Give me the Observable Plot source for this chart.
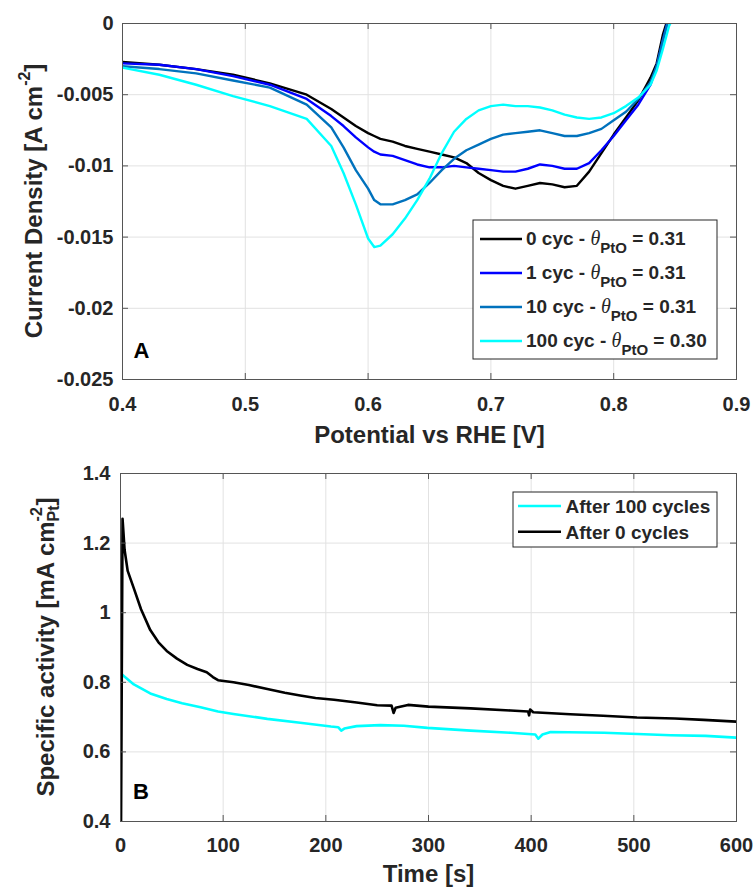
<!DOCTYPE html>
<html><head><meta charset="utf-8">
<script src="https://cdn.jsdelivr.net/npm/d3@7"></script>
<script src="https://cdn.jsdelivr.net/npm/@observablehq/plot@0.6"></script>
<style>
body{margin:0;background:#fff}
#chart{position:relative;width:756px;height:888px}
#chart svg{display:block}
</style></head><body><div id="chart"></div><script>
// ---------- Panel A data ----------
const potentialA = [0.40,0.43,0.46,0.49,0.52,0.55,0.57,0.58,0.59,0.60,0.605,0.61,0.62,0.63,0.64,0.65,0.66,0.67,0.68,0.69,0.70,0.71,0.72,0.73,0.74,0.75,0.76,0.77,0.78,0.79,0.80,0.81,0.82,0.83,0.835,0.84,0.845,0.85];
const current0cyc = [-0.0027,-0.0029,-0.0032,-0.0036,-0.0042,-0.0050,-0.0060,-0.0066,-0.0072,-0.0077,-0.0079,-0.0081,-0.0083,-0.0086,-0.0088,-0.0090,-0.0092,-0.0094,-0.0098,-0.0105,-0.0110,-0.0114,-0.0116,-0.0114,-0.0112,-0.0113,-0.0115,-0.0114,-0.0104,-0.0091,-0.0078,-0.0066,-0.0054,-0.0038,-0.0028,-0.0008,0.0006,0.0015];
const current1cyc = [-0.0028,-0.0029,-0.0032,-0.0037,-0.0043,-0.0053,-0.0065,-0.0072,-0.0080,-0.0087,-0.0090,-0.0092,-0.0093,-0.0096,-0.0099,-0.0101,-0.0101,-0.0100,-0.0101,-0.0102,-0.0103,-0.0104,-0.0104,-0.0102,-0.0099,-0.0100,-0.0102,-0.0102,-0.0098,-0.0089,-0.0079,-0.0068,-0.0057,-0.0043,-0.0030,-0.0012,0.0005,0.0014];
const current10cyc = [-0.0030,-0.0032,-0.0035,-0.0040,-0.0045,-0.0057,-0.0073,-0.0087,-0.0103,-0.0116,-0.0124,-0.0127,-0.0127,-0.0124,-0.0120,-0.0112,-0.0103,-0.0095,-0.0089,-0.0085,-0.0081,-0.0078,-0.0077,-0.0076,-0.0075,-0.0077,-0.0079,-0.0079,-0.0077,-0.0074,-0.0068,-0.0062,-0.0053,-0.0041,-0.0030,-0.0012,0.0004,0.0013];
const current100cyc = [-0.0031,-0.0036,-0.0043,-0.0051,-0.0058,-0.0067,-0.0086,-0.0105,-0.0127,-0.0151,-0.0157,-0.0156,-0.0148,-0.0137,-0.0124,-0.0109,-0.0091,-0.0076,-0.0067,-0.0061,-0.0058,-0.0057,-0.0058,-0.0058,-0.0059,-0.0061,-0.0064,-0.0066,-0.0067,-0.0066,-0.0063,-0.0058,-0.0052,-0.0043,-0.0033,-0.0018,-0.0002,0.0007];
const cyclesA = ["0 cyc", "1 cyc", "10 cyc", "100 cyc"];
const thetaA = ["0.31", "0.31", "0.31", "0.30"];
const colorsA = ["#000000", "#0000ff", "#0072bd", "#00ffff"];
const xTicksA = [0.4, 0.5, 0.6, 0.7, 0.8, 0.9];
const yTicksA = [-0.025, -0.02, -0.015, -0.01, -0.005, 0];

// ---------- Panel B data ----------
const timeAfter0 = [0.5,2,4,7,13,20,29,37,45,55,65,75,84,90,95,110,125,143,160,175,190,208,230,250,264,266,268,280,300,341,380,397,398,399,402,438,470,503,540,568,600];
const activityAfter0 = [0.38,1.27,1.18,1.12,1.07,1.01,0.95,0.915,0.89,0.868,0.850,0.838,0.829,0.815,0.806,0.800,0.792,0.781,0.770,0.762,0.755,0.750,0.742,0.734,0.733,0.712,0.727,0.735,0.730,0.725,0.719,0.716,0.705,0.722,0.714,0.708,0.704,0.699,0.696,0.692,0.687];
const timeAfter100 = [0,13,29,45,60,78,95,110,143,175,205,212,215,218,230,253,276,299,341,380,404,407,411,419,471,536,570,600];
const activityAfter100 = [0.826,0.794,0.768,0.752,0.740,0.728,0.716,0.709,0.695,0.684,0.673,0.671,0.661,0.667,0.674,0.677,0.675,0.669,0.661,0.655,0.650,0.638,0.650,0.657,0.655,0.648,0.646,0.641];
const legendB = ["After 100 cycles", "After 0 cycles"];
const colorsB = ["#00ffff", "#000000"];
const xTicksB = [0, 100, 200, 300, 400, 500, 600];
const yTicksB = [0.4, 0.6, 0.8, 1, 1.2, 1.4];

// ---------- styling ----------
const FONT = '"Liberation Sans", Arial, Helvetica, sans-serif';
const SERIF = '"Liberation Serif", "Times New Roman", serif';
const INK = "#262626";
const AXIS = "#555555";
const GRID = "#e2e2e2";
const TICK = 6;

function frameMarks(xt, yt, pw, ph) {
  return [
    Plot.ruleX(xt, {x: d => d, insetTop: ph - TICK, stroke: AXIS}),
    Plot.ruleX(xt, {x: d => d, insetBottom: ph - TICK, stroke: AXIS}),
    Plot.ruleY(yt, {y: d => d, insetRight: pw - TICK, stroke: AXIS}),
    Plot.ruleY(yt, {y: d => d, insetLeft: pw - TICK, stroke: AXIS}),
    Plot.frame({stroke: AXIS})
  ];
}

function rich(svg, x, y, angle, segs, center) {
  const g = d3.select(svg).append("g")
    .attr("transform", `translate(${x},${y}) rotate(${angle})`)
    .attr("fill", INK).attr("font-family", FONT).attr("font-weight", "bold")
    .attr("text-anchor", "start");
  const inner = g.append("g");
  let cx = 0;
  for (const s of segs) {
    const group = s.stack ? s.stack : [s];
    let w = 0;
    for (const p of group) {
      const t = inner.append("text").attr("x", cx).attr("y", p.dy || 0)
        .attr("text-anchor", "start")
        .attr("font-size", p.size).style("white-space", "pre").text(p.text);
      if (p.italic) t.attr("font-style", "italic");
      if (p.family) t.attr("font-family", p.family);
      if (p.weight) t.attr("font-weight", p.weight);
      w = Math.max(w, t.node().getComputedTextLength());
    }
    cx += w;
  }
  if (center) inner.attr("transform", `translate(${-cx / 2},0)`);
  return cx;
}

const chart = document.getElementById("chart");

// ---------- Panel A ----------
const A = {w: 756, h: 450, ml: 122, mr: 20, mt: 23, mb: 71};
const pwA = A.w - A.ml - A.mr, phA = A.h - A.mt - A.mb;
const seriesA = [current0cyc, current1cyc, current10cyc, current100cyc];

const plotA = Plot.plot({
  width: A.w, height: A.h,
  marginLeft: A.ml, marginRight: A.mr, marginTop: A.mt, marginBottom: A.mb,
  style: {fontFamily: FONT, color: INK, background: "#fff", overflow: "visible"},
  x: {domain: [0.4, 0.9]},
  y: {domain: [-0.025, 0]},
  marks: [
    Plot.gridX(xTicksA, {stroke: GRID, strokeOpacity: 1}),
    Plot.gridY(yTicksA, {stroke: GRID, strokeOpacity: 1}),
    ...seriesA.map((vals, k) => Plot.line(potentialA, {
      x: d => d, y: (d, i) => vals[i], stroke: colorsA[k], strokeWidth: 2.4, clip: true
    })),
    ...frameMarks(xTicksA, yTicksA, pwA, phA),
    Plot.axisX(xTicksA, {tickSize: 0, tickPadding: 17, fontSize: 20, fontWeight: "bold", label: null, tickFormat: d => String(d)}),
    Plot.axisY(yTicksA, {tickSize: 0, tickPadding: 9, fontSize: 20, fontWeight: "bold", label: null, tickFormat: d => String(d)}),
    Plot.text(["Potential vs RHE [V]"], {text: d => d, frameAnchor: "bottom", dy: 63, fontSize: 24, fontWeight: "bold"}),
    Plot.text(["A"], {text: d => d, frameAnchor: "bottom-left", textAnchor: "start", dx: 11, dy: -22, fontSize: 22, fontWeight: "bold", fill: "#000"})
  ]
});
chart.appendChild(plotA);

// y label A
rich(plotA, 41.5, A.mt + phA / 2, -90, [
  {text: "Current Density [A cm", size: 24},
  {text: "-2", size: 16, dy: -12},
  {text: "]", size: 24}
], true);

// legend A
{
  const svg = d3.select(plotA);
  const bx = 473, by = 220, bw = 244, bh = 139;
  svg.append("rect").attr("x", bx).attr("y", by).attr("width", bw).attr("height", bh)
    .attr("fill", "#fff").attr("stroke", INK).attr("stroke-width", 1);
  cyclesA.forEach((c, i) => {
    const ly = 239 + i * 34;
    svg.append("line").attr("x1", 480).attr("x2", 522).attr("y1", ly).attr("y2", ly)
      .attr("stroke", colorsA[i]).attr("stroke-width", 2.6);
    rich(plotA, 526, ly + 6, 0, [
      {text: c + " - ", size: 19},
      {text: "θ", size: 20, italic: true, family: SERIF, weight: "normal"},
      {text: "PtO", size: 15, dy: 8},
      {text: " = " + thetaA[i], size: 19}
    ], false);
  });
}

// ---------- Panel B ----------
const B = {w: 756, h: 438, ml: 120, mr: 20, mt: 23, mb: 67};
const pwB = B.w - B.ml - B.mr, phB = B.h - B.mt - B.mb;

const plotB = Plot.plot({
  width: B.w, height: B.h,
  marginLeft: B.ml, marginRight: B.mr, marginTop: B.mt, marginBottom: B.mb,
  style: {fontFamily: FONT, color: INK, background: "#fff", overflow: "visible"},
  x: {domain: [0, 600]},
  y: {domain: [0.4, 1.4]},
  marks: [
    Plot.gridX(xTicksB, {stroke: GRID, strokeOpacity: 1}),
    Plot.gridY(yTicksB, {stroke: GRID, strokeOpacity: 1}),
    Plot.line(timeAfter100, {x: d => d, y: (d, i) => activityAfter100[i], stroke: colorsB[0], strokeWidth: 2.6, clip: true}),
    Plot.line(timeAfter0, {x: d => d, y: (d, i) => activityAfter0[i], stroke: colorsB[1], strokeWidth: 2.6, clip: true}),
    ...frameMarks(xTicksB, yTicksB, pwB, phB),
    Plot.axisX(xTicksB, {tickSize: 0, tickPadding: 16, fontSize: 20, fontWeight: "bold", label: null, tickFormat: d => String(d)}),
    Plot.axisY(yTicksB, {tickSize: 0, tickPadding: 10, fontSize: 20, fontWeight: "bold", label: null, tickFormat: d => String(d)}),
    Plot.text(["Time [s]"], {text: d => d, frameAnchor: "bottom", dy: 60, fontSize: 24, fontWeight: "bold"}),
    Plot.text(["B"], {text: d => d, frameAnchor: "bottom-left", textAnchor: "start", dx: 12.5, dy: -23, fontSize: 22, fontWeight: "bold", fill: "#000"})
  ]
});
chart.appendChild(plotB);

rich(plotB, 53.5, B.mt + phB / 2, -90, [
  {text: "Specific activity [mA cm", size: 24},
  {stack: [{text: "-2", size: 16, dy: -12}, {text: "Pt", size: 16, dy: 5}]},
  {text: "]", size: 24}
], true);

{
  const svg = d3.select(plotB);
  const bx = 513, by = 42, bw = 204, bh = 55;
  svg.append("rect").attr("x", bx).attr("y", by).attr("width", bw).attr("height", bh)
    .attr("fill", "#fff").attr("stroke", INK).attr("stroke-width", 1);
  legendB.forEach((t, i) => {
    const ly = 56 + i * 25.7;
    svg.append("line").attr("x1", 518).attr("x2", 561).attr("y1", ly).attr("y2", ly)
      .attr("stroke", colorsB[i]).attr("stroke-width", 2.6);
    rich(plotB, 565.5, ly + 7, 0, [{text: t, size: 19}], false);
  });
}
</script></body></html>
